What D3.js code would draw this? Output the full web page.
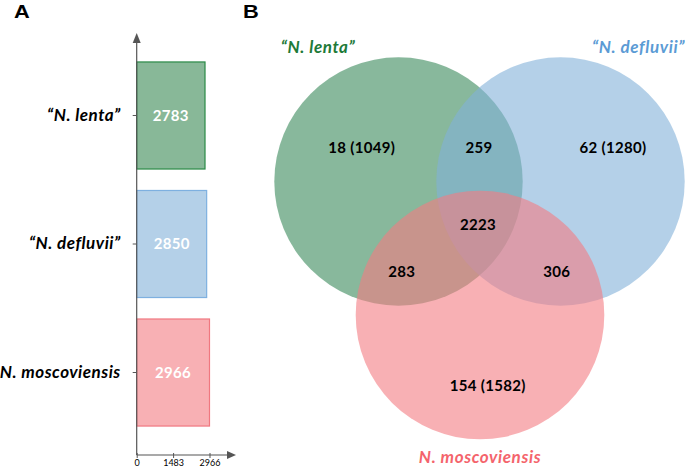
<!DOCTYPE html>
<html>
<head>
<meta charset="utf-8">
<script src="https://cdn.jsdelivr.net/npm/d3@7"></script>
<style>
  html, body { margin: 0; padding: 0; background: #fff; }
  svg { display: block; font-family: Lato, "Open Sans", sans-serif; }
</style>
</head>
<body>
<script>
// ---------- data ----------
const categories = ['\u201CN. lenta\u201D', '\u201CN. defluvii\u201D', 'N. moscoviensis'];
const geneCounts = [2783, 2850, 2966];
const xTickValues = [0, 1483, 2966];
const fillColors = ['#88b898', '#b4d0e8', '#f8b0b4'];
const strokeColors = ['#2a8a46', '#7eb0e0', '#f07880'];
const titleColors = ['#1e7a38', '#5b9bd5', '#f4646c'];

// Venn region labels: lenta only, lenta∩defluvii, defluvii only, lenta∩mosco, all, defluvii∩mosco, mosco only
const vennRegions = ['lenta', 'lenta&defluvii', 'defluvii', 'lenta&mosco', 'all', 'defluvii&mosco', 'mosco'];
const vennLabels = ['18 (1049)', '259', '62 (1280)', '283', '2223', '306', '154 (1582)'];

// ---------- layout ----------
const W = 685, H = 468;
const svg = d3.select('body').append('svg').attr('width', W).attr('height', H);

// Panel letters
svg.append('text').attr('x', 14).attr('y', 18.5).attr('font-size', 19).attr('font-weight', 700)
  .attr('font-family', '"Liberation Sans", Arial, sans-serif').attr('transform', 'translate(14,0) scale(1.15,1) translate(-14,0)').text('A');
svg.append('text').attr('x', 243).attr('y', 18).attr('font-size', 19).attr('font-weight', 700)
  .attr('font-family', '"Liberation Sans", Arial, sans-serif').attr('transform', 'translate(243,0) scale(1.15,1) translate(-243,0)').text('B');

// ---------- Panel A: bar chart ----------
const x0 = 136.7, axisY = 455;
const x = d3.scaleLinear().domain([0, 2966]).range([x0, 209.5]);
const y = d3.scaleBand().domain(categories).range([40.5, 447.5]).paddingInner(0.167).paddingOuter(0.167);

const gA = svg.append('g');
gA.selectAll('rect.bar').data(categories).join('rect')
  .attr('class', 'bar')
  .attr('x', x(0))
  .attr('y', d => y(d))
  .attr('width', (d, i) => x(geneCounts[i]) - x(0))
  .attr('height', y.bandwidth())
  .attr('fill', (d, i) => fillColors[i])
  .attr('stroke', (d, i) => strokeColors[i])
  .attr('stroke-width', 1.2);

gA.selectAll('text.val').data(categories).join('text')
  .attr('class', 'val')
  .attr('x', (d, i) => (x(0) + x(geneCounts[i])) / 2)
  .attr('y', d => y(d) + y.bandwidth() / 2)
  .attr('dy', '0.35em')
  .attr('text-anchor', 'middle')
  .attr('fill', '#fff')
  .attr('font-size', 15)
  .attr('font-weight', 700)
  .attr('letter-spacing', 0.3)
  .text((d, i) => geneCounts[i]);

// y axis (left)
const yAxis = d3.axisLeft(y).tickSize(4).tickPadding(12);
const gy = gA.append('g').attr('transform', `translate(${x0},0)`).call(yAxis);
gy.select('.domain').remove();
gy.selectAll('.tick line').attr('stroke', '#555');
gy.selectAll('.tick text')
  .attr('font-size', 17).attr('font-weight', 700).attr('font-style', 'italic')
  .attr('letter-spacing', 0.5)
  .attr('fill', '#000').attr('font-family', 'Lato, sans-serif');

gA.append('line').attr('x1', x0).attr('x2', x0).attr('y1', axisY).attr('y2', 42)
  .attr('stroke', '#555').attr('stroke-width', 1.2);
gA.append('path').attr('d', `M${x0 - 4},43 L${x0},33 L${x0 + 4},43 Z`).attr('fill', '#555');

// x axis (bottom)
const xAxis = d3.axisBottom(x).tickValues(xTickValues).tickFormat(d3.format('d')).tickSize(4).tickPadding(1);
const gx = gA.append('g').attr('transform', `translate(0,${axisY})`).call(xAxis);
gx.select('.domain').remove();
gx.selectAll('.tick line').attr('y1', -2).attr('y2', 3).attr('stroke', '#555');
gx.selectAll('.tick text').attr('font-size', 9).attr('fill', '#000').attr('font-family', 'Lato, sans-serif');
gA.append('line').attr('x1', x0).attr('x2', 228).attr('y1', axisY).attr('y2', axisY)
  .attr('stroke', '#555').attr('stroke-width', 1.2);
gA.append('path').attr('d', `M227,${axisY - 4} L236,${axisY} L227,${axisY + 4} Z`).attr('fill', '#555');

// ---------- Panel B: Venn ----------
const circles = [
  { cx: 398.5, cy: 181.5, r: 124.2, color: '#39895a', opacity: 0.6 },
  { cx: 560.5, cy: 181.5, r: 124.2, color: '#82b1d9', opacity: 0.6 },
  { cx: 480,   cy: 315,   r: 124.3, color: '#f37b82', opacity: 0.6 }
];
const gB = svg.append('g');
gB.selectAll('circle').data(circles).join('circle')
  .attr('cx', d => d.cx).attr('cy', d => d.cy).attr('r', d => d.r)
  .attr('fill', d => d.color).attr('fill-opacity', d => d.opacity);

const labelPos = {
  'lenta': [361.7, 148],
  'lenta&defluvii': [479, 148],
  'defluvii': [613, 148],
  'lenta&mosco': [401.7, 271.5],
  'all': [478, 225],
  'defluvii&mosco': [556.7, 271.5],
  'mosco': [487.7, 386]
};
gB.selectAll('text.region').data(vennRegions).join('text')
  .attr('class', 'region')
  .attr('x', d => labelPos[d][0])
  .attr('y', d => labelPos[d][1])
  .attr('dy', '0.35em')
  .attr('text-anchor', 'middle')
  .attr('font-size', 15)
  .attr('font-weight', 700)
  .attr('letter-spacing', 0.3)
  .attr('fill', '#000')
  .text((d, i) => vennLabels[i]);

const titlePos = [[318, 47, 'middle'], [685, 47, 'end'], [480, 457, 'middle']];
gB.selectAll('text.title').data(categories).join('text')
  .attr('class', 'title')
  .attr('x', (d, i) => titlePos[i][0])
  .attr('y', (d, i) => titlePos[i][1])
  .attr('dy', '0.35em')
  .attr('text-anchor', (d, i) => titlePos[i][2])
  .attr('font-size', 17)
  .attr('font-weight', 700)
  .attr('font-style', 'italic')
  .attr('letter-spacing', 0.6)
  .attr('fill', (d, i) => titleColors[i])
  .text(d => d);
</script>
</body>
</html>
